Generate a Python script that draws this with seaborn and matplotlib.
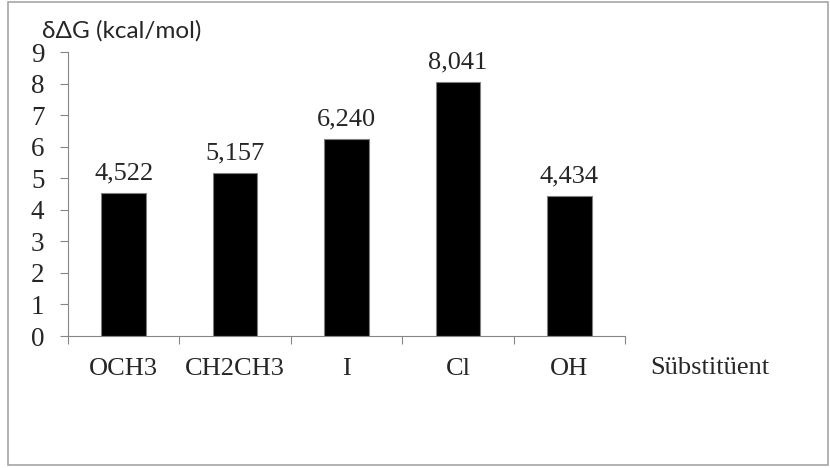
import matplotlib
matplotlib.use("Agg")
import matplotlib.pyplot as plt
import matplotlib.patches as mpatches
from matplotlib.ticker import FixedLocator
import seaborn as sns
import pandas as pd

# Substituent effect on free energy difference
substituents = ["OCH3", "CH2CH3", "I", "Cl", "OH"]
ddg_values = [4.522, 5.157, 6.240, 8.041, 4.434]
value_labels = ["4,522", "5,157", "6,240", "8,041", "4,434"]
y_ticks = [0, 1, 2, 3, 4, 5, 6, 7, 8, 9]

df = pd.DataFrame({"sub": substituents, "ddg": ddg_values})

sns.set_theme(style="white")
serif = ["Liberation Serif", "DejaVu Serif"]
sans = ["Lato", "DejaVu Sans"]
axis_grey = "#868686"

fig = plt.figure(figsize=(8.3, 4.68), dpi=100)
ax = fig.add_axes([68 / 830, 1 - 336 / 468, (625 - 68) / 830, (336 - 52) / 468])

sns.barplot(data=df, x="sub", y="ddg", color="black", width=0.4,
            edgecolor="#808080", linewidth=0.8, saturation=1, ax=ax)

ax.set_xlim(-0.5, len(substituents) - 0.5)
ax.set_ylim(0, 9)
ax.set_xlabel("")
ax.set_ylabel("")

# value labels above each bar
for i, (v, lab) in enumerate(zip(ddg_values, value_labels)):
    ax.annotate(lab, (i, v), xytext=(0, 6.5), textcoords="offset points",
                ha="center", va="bottom", fontsize=19, family=serif)

# y axis
ax.set_yticks(y_ticks)
ax.set_yticklabels([str(t) for t in y_ticks], family=serif, fontsize=19.5)
ax.tick_params(axis="y", which="major", length=6, width=0.8, color=axis_grey,
               pad=11, left=True)

# x axis: ticks between categories, labels centered below bars
ax.xaxis.set_major_locator(FixedLocator([i - 0.5 for i in range(len(substituents) + 1)]))
ax.set_xticklabels([""] * (len(substituents) + 1))
ax.set_xticks(list(range(len(substituents))), minor=True)
ax.set_xticklabels(substituents, minor=True, family=serif, fontsize=19)
ax.tick_params(axis="x", which="major", length=6, width=0.8, color=axis_grey,
               bottom=True)
ax.tick_params(axis="x", which="minor", length=0, pad=16, bottom=True)

for side in ["top", "right"]:
    ax.spines[side].set_visible(False)
for side in ["left", "bottom"]:
    ax.spines[side].set_color(axis_grey)
    ax.spines[side].set_linewidth(0.8)

# axis titles
fig.text(42 / 830, 1 - 31 / 468, "δΔG (kcal/mol)", family=sans, fontsize=17.5,
         ha="left", va="center")
fig.text(650 / 830, 1 - 368 / 468, "Sübstitüent", family=serif, fontsize=19,
         ha="left", va="center")

# chart frame
frame = mpatches.Rectangle((8 / 830, 1 - 465 / 468), 820 / 830, 463 / 468,
                           transform=fig.transFigure, fill=False,
                           edgecolor="#a6a6a6", linewidth=1.2)
fig.patches.append(frame)

fig.savefig("out.png", dpi=100)
